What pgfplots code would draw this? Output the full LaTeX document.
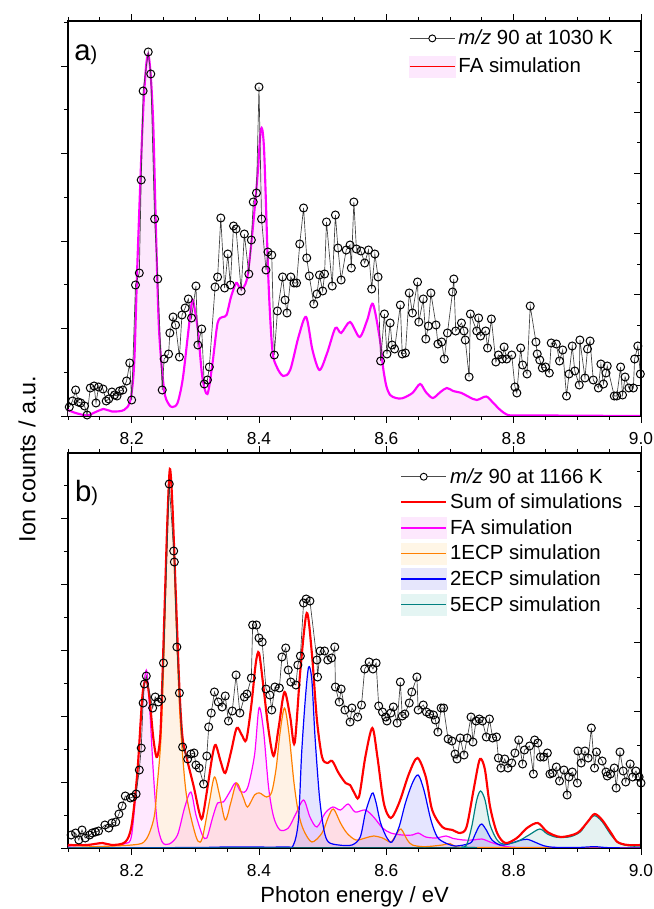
\documentclass[border=0pt]{standalone}
\usepackage{pgfplots}
\pgfplotsset{compat=1.18}
\usepackage{fontspec}
\setmainfont{Liberation Sans}
\definecolor{famag}{RGB}{255,0,255}
\definecolor{simred}{RGB}{255,0,0}
\definecolor{ecpa}{RGB}{255,128,0}
\definecolor{ecpb}{RGB}{0,0,255}
\definecolor{ecpc}{RGB}{0,128,128}
\definecolor{fafill}{RGB}{253,232,253}
\definecolor{ecpafill}{RGB}{255,246,230}
\definecolor{ecpbfill}{RGB}{230,230,252}
\definecolor{ecpcfill}{RGB}{228,245,243}
\pgfplotsset{
  panel/.style={
    scale only axis, width=429.75pt, height=296.25pt,
    xmin=8.1, xmax=9.0, ymin=0, ymax=395,
    xtick={8.2,8.4,8.6,8.8,9.0},
    xticklabels={8.2,8.4,8.6,8.8,9.0},
    minor xtick={8.1,8.15,8.25,8.3,8.35,8.45,8.5,8.55,8.65,8.7,8.75,8.85,8.9,8.95},
    xtick pos=both, xticklabel pos=bottom,
    ytick pos=left,
    yticklabels={},
    tick align=outside,
    major tick length=5pt, minor tick length=3pt,
    tick style={black, line width=0.6pt},
    axis line style={line width=0.8pt},
    ticklabel style={font=\fontsize{13pt}{15pt}\selectfont},
    xticklabel style={yshift=-4pt},
    /pgf/number format/assume math mode=true,
    legend cell align=left,
  },
  rightticks/.style={
    scale only axis, width=429.75pt, height=296.25pt,
    xmin=8.1, xmax=9.0, ymin=0, ymax=395,
    hide x axis, axis y line*=right,
    yticklabels={}, tick align=inside,
    major tick length=5pt, minor tick length=3pt,
    tick style={black, line width=0.6pt},
    axis line style={line width=0.8pt},
  },
  expdata/.style={black!75, line width=0.5pt, mark=o, mark size=3pt,
    mark options={black, line width=0.75pt}},
}
\begin{document}
\begin{tikzpicture}
\useasboundingbox (-51pt,-45.75pt) rectangle (438.75pt,636pt);

% ---------------- top panel ----------------
\begin{axis}[panel, at={(0pt,324pt)},
  ytick={0,87.5,175,262.5,350}, minor ytick={43.75,131.25,218.75,306.25,393.75},
  legend style={draw=none, fill=none, at={(0.958,0.988)}, anchor=north east,
    font=\fontsize{15.3pt}{15.3pt}\selectfont, row sep=4.5pt, inner sep=1pt}]
\addlegendimage{legend image code/.code={\draw[black!70,line width=0.6pt] (0pt,0pt) -- (34pt,0pt); \draw[black,line width=0.7pt,fill=white] (17pt,0pt) circle (2.6pt);}}
\addlegendentry{\textit{m/z} 90 at 1030 K}
\addlegendimage{legend image code/.code={\fill[fafill] (0pt,-8pt) rectangle (34pt,8pt); \draw[simred,line width=1.2pt] (0pt,0pt) -- (34pt,0pt);}}
\addlegendentry{FA simulation}

\addplot[forget plot, draw=none, fill=fafill, smooth] coordinates {
(8.100,6) (8.112,3) (8.130,0.5) (8.140,3) (8.156,7) (8.169,4.5) (8.188,6) (8.198,16)
(8.204,53) (8.209,153) (8.217,290) (8.222,345) (8.226,362) (8.230,340) (8.234,290)
(8.238,190) (8.243,86) (8.251,26) (8.258,12) (8.264,9) (8.272,13) (8.280,36) (8.288,79)
(8.294,112) (8.297,114) (8.304,86) (8.311,39) (8.319,22) (8.327,53) (8.335,93) (8.343,99)
(8.349,101) (8.356,119) (8.364,133) (8.369,129) (8.375,128) (8.382,140) (8.390,186)
(8.398,243) (8.403,287) (8.408,266) (8.415,133) (8.421,66) (8.428,49) (8.438,40)
(8.449,46) (8.462,79) (8.474,99) (8.484,66) (8.495,46) (8.507,63) (8.520,88) (8.529,83)
(8.543,94) (8.558,79) (8.570,96) (8.579,112) (8.590,76) (8.595,48) (8.600,30) (8.606,21)
(8.615,18) (8.625,17.7) (8.641,23) (8.653,32) (8.662,24) (8.673,18) (8.685,24) (8.695,28)
(8.705,25) (8.718,23) (8.730,19) (8.742,16) (8.757,19.5) (8.768,13) (8.779,6) (8.789,1.5)
(8.800,0.5) (8.850,0.5) (8.900,0.3) (9.000,0)} \closedcycle;
\addplot[forget plot, famag, line width=1.6pt, smooth] coordinates {
(8.100,6) (8.112,3) (8.130,0.5) (8.140,3) (8.156,7) (8.169,4.5) (8.188,6) (8.198,16)
(8.204,53) (8.209,153) (8.217,290) (8.222,345) (8.226,362) (8.230,340) (8.234,290)
(8.238,190) (8.243,86) (8.251,26) (8.258,12) (8.264,9) (8.272,13) (8.280,36) (8.288,79)
(8.294,112) (8.297,114) (8.304,86) (8.311,39) (8.319,22) (8.327,53) (8.335,93) (8.343,99)
(8.349,101) (8.356,119) (8.364,133) (8.369,129) (8.375,128) (8.382,140) (8.390,186)
(8.398,243) (8.403,287) (8.408,266) (8.415,133) (8.421,66) (8.428,49) (8.438,40)
(8.449,46) (8.462,79) (8.474,99) (8.484,66) (8.495,46) (8.507,63) (8.520,88) (8.529,83)
(8.543,94) (8.558,79) (8.570,96) (8.579,112) (8.590,76) (8.595,48) (8.600,30) (8.606,21)
(8.615,18) (8.625,17.7) (8.641,23) (8.653,32) (8.662,24) (8.673,18) (8.685,24) (8.695,28)
(8.705,25) (8.718,23) (8.730,19) (8.742,16) (8.757,19.5) (8.768,13) (8.779,6) (8.789,1.5)
(8.800,0.5) (8.850,0.5) (8.900,0.3) (9.000,0)};
\addplot[forget plot, expdata] coordinates {
(8.102,9) (8.107,15) (8.112,26) (8.116,14) (8.120,13) (8.126,10) (8.130,1) (8.135,28)
(8.141,30) (8.144,13) (8.148,29) (8.155,27) (8.160,15) (8.164,17) (8.169,24) (8.173,21)
(8.177,20) (8.181,25) (8.186,26) (8.192,35) (8.197,53) (8.200,16) (8.206,131) (8.212,143)
(8.215,236) (8.218,325) (8.226,364) (8.230,342) (8.236,197) (8.241,137) (8.248,26)
(8.251,57) (8.258,62) (8.260,83) (8.265,99) (8.269,91) (8.275,59) (8.279,101) (8.284,108)
(8.289,117) (8.294,98) (8.301,130) (8.304,71) (8.310,87) (8.314,32) (8.319,36) (8.322,49)
(8.331,129) (8.335,139) (8.340,198) (8.346,128) (8.351,162) (8.355,131) (8.360,190)
(8.364,187) (8.372,125) (8.377,182) (8.384,142) (8.388,176) (8.391,214) (8.396,223)
(8.400,329) (8.404,197) (8.411,146) (8.414,164) (8.420,161) (8.424,61) (8.429,105)
(8.437,139) (8.441,116) (8.444,103) (8.450,139) (8.455,133) (8.459,133) (8.464,172)
(8.470,208) (8.475,158) (8.479,140) (8.486,112) (8.491,122) (8.495,141) (8.500,125)
(8.503,142) (8.506,194) (8.515,130) (8.520,201) (8.524,168) (8.529,136) (8.537,166)
(8.543,171) (8.545,148) (8.549,214) (8.553,167) (8.560,165) (8.566,153) (8.572,166)
(8.577,127) (8.582,162) (8.587,139) (8.591,55) (8.597,102) (8.601,62) (8.606,93)
(8.609,71) (8.613,67) (8.622,111) (8.625,62) (8.630,63) (8.636,123) (8.641,103)
(8.649,134) (8.651,94) (8.658,117) (8.662,77) (8.666,90) (8.670,123) (8.678,91)
(8.681,72) (8.687,74) (8.691,57) (8.696,83) (8.704,124) (8.706,137) (8.709,85)
(8.718,93) (8.722,85) (8.724,76) (8.730,39) (8.732,102) (8.742,85) (8.745,98) (8.748,80)
(8.756,85) (8.759,68) (8.765,97) (8.772,54) (8.776,61) (8.782,57) (8.785,69) (8.789,57)
(8.797,61) (8.802,29) (8.805,23) (8.811,68) (8.814,51) (8.821,42) (8.826,110) (8.835,74)
(8.837,62) (8.841,56) (8.845,48) (8.850,49) (8.856,43) (8.859,73) (8.867,72) (8.872,55)
(8.877,66) (8.883,20) (8.887,42) (8.892,70) (8.896,45) (8.903,31) (8.904,76) (8.912,38)
(8.916,67) (8.920,75) (8.925,36) (8.933,28) (8.937,52) (8.941,32) (8.945,43) (8.947,50)
(8.958,20) (8.962,20) (8.968,49) (8.971,21) (8.975,39) (8.981,28) (8.988,28) (8.990,57)
(8.995,70) (8.999,42)};
\node[anchor=base west, inner sep=0pt] at (rel axis cs:0.0105,0.899)
  {\fontsize{22pt}{22pt}\selectfont a\fontsize{15pt}{15pt}\selectfont)};
\end{axis}
\begin{axis}[rightticks, at={(0pt,324pt)},
  ytick={0,60.7,121.4,182.1,242.8,303.5,364.2},
  minor ytick={30.35,91.05,151.75,212.45,273.15,333.85}]
\end{axis}

% ---------------- bottom panel ----------------
\begin{axis}[panel, at={(0pt,0pt)},
  ytick={0,66,132,198,264,330}, minor ytick={33,99,165,231,297,363},
  legend style={draw=none, fill=none, at={(0.975,0.972)}, anchor=north east,
    font=\fontsize{15.3pt}{15.3pt}\selectfont, row sep=2.6pt, inner sep=1pt}]
\addlegendimage{legend image code/.code={\draw[black!70,line width=0.6pt] (0pt,0pt) -- (34pt,0pt); \draw[black,line width=0.7pt,fill=white] (17pt,0pt) circle (2.6pt);}}
\addlegendentry{\textit{m/z} 90 at 1166 K}
\addlegendimage{legend image code/.code={\draw[simred,line width=1.5pt] (0pt,0pt) -- (34pt,0pt);}}
\addlegendentry{Sum of simulations}
\addlegendimage{legend image code/.code={\fill[fafill] (0pt,-8pt) rectangle (34pt,8pt); \draw[famag,line width=1pt] (0pt,0pt) -- (34pt,0pt);}}
\addlegendentry{FA simulation}
\addlegendimage{legend image code/.code={\fill[ecpafill] (0pt,-8pt) rectangle (34pt,8pt); \draw[ecpa,line width=1pt] (0pt,0pt) -- (34pt,0pt);}}
\addlegendentry{1ECP simulation}
\addlegendimage{legend image code/.code={\fill[ecpbfill] (0pt,-8pt) rectangle (34pt,8pt); \draw[ecpb,line width=1pt] (0pt,0pt) -- (34pt,0pt);}}
\addlegendentry{2ECP simulation}
\addlegendimage{legend image code/.code={\fill[ecpcfill] (0pt,-8pt) rectangle (34pt,8pt); \draw[ecpc,line width=1pt] (0pt,0pt) -- (34pt,0pt);}}
\addlegendentry{5ECP simulation}

% FA
\addplot[forget plot, draw=none, fill=famag, fill opacity=0.09, smooth] coordinates {
(8.100,2) (8.130,3) (8.154,5) (8.170,3) (8.190,4.5) (8.200,13) (8.209,76) (8.216,143)
(8.223,178) (8.228,143) (8.234,76) (8.240,26) (8.248,6) (8.259,4) (8.272,13) (8.283,40)
(8.293,56) (8.301,33) (8.311,13) (8.318,10) (8.327,30) (8.335,45) (8.344,46) (8.354,56)
(8.363,65) (8.372,56) (8.382,60) (8.393,93) (8.400,140) (8.407,118) (8.415,61) (8.423,31)
(8.433,18) (8.446,20) (8.457,33) (8.470,48) (8.480,31) (8.491,21) (8.504,35) (8.516,41)
(8.528,38) (8.540,44) (8.551,36) (8.567,38) (8.580,31) (8.594,20) (8.607,15) (8.625,13)
(8.641,13) (8.650,15) (8.662,11) (8.678,10) (8.694,12) (8.704,9.7) (8.721,8) (8.737,8)
(8.750,9) (8.763,6) (8.774,3.7) (8.790,1.3) (8.820,0.5) (9.000,0.3)} \closedcycle;
% 1ECP
\addplot[forget plot, draw=none, fill=ecpa, fill opacity=0.1, smooth] coordinates {
(8.100,0.5) (8.200,3) (8.222,8) (8.235,30) (8.240,62) (8.246,110) (8.251,200) (8.256,326)
(8.260,376) (8.264,343) (8.269,243) (8.275,143) (8.280,93) (8.286,53) (8.296,23) (8.304,7)
(8.311,10) (8.322,46) (8.330,71) (8.338,53) (8.347,28) (8.356,46) (8.365,65) (8.375,51)
(8.382,41) (8.393,53) (8.401,55) (8.412,51) (8.420,56) (8.427,80) (8.433,115) (8.440,140)
(8.447,115) (8.455,65) (8.462,35) (8.470,18) (8.483,6) (8.499,15) (8.509,31) (8.517,39)
(8.528,25) (8.538,15) (8.552,8) (8.567,10) (8.580,12) (8.594,10) (8.607,6) (8.615,13)
(8.623,19) (8.633,8) (8.641,3) (8.660,1.3) (8.688,3) (8.700,4.5) (8.712,1) (8.750,0.5)
(9.000,0)} \closedcycle;
% 2ECP
\addplot[forget plot, draw=none, fill=ecpb, fill opacity=0.1, smooth] coordinates {
(8.100,0) (8.300,0.5) (8.350,1) (8.440,1) (8.454,3) (8.462,28) (8.467,95) (8.473,151)
(8.478,181) (8.483,168) (8.488,111) (8.495,51) (8.502,18) (8.509,6) (8.525,3) (8.546,3)
(8.559,11) (8.567,35) (8.575,51) (8.579,55) (8.584,45) (8.591,25) (8.601,10) (8.609,6)
(8.620,21) (8.630,45) (8.641,65) (8.650,73) (8.659,58) (8.670,28) (8.680,11) (8.693,5)
(8.709,2) (8.732,5) (8.739,13) (8.745,21) (8.750,24) (8.757,18) (8.766,8) (8.779,3)
(8.792,4) (8.808,7.3) (8.821,8.7) (8.834,5.7) (8.847,2.3) (8.863,0.7) (8.900,0.5)
(8.927,1.3) (8.950,0.3) (9.000,0)} \closedcycle;
% 5ECP
\addplot[forget plot, draw=none, fill=ecpc, fill opacity=0.1, smooth] coordinates {
(8.100,0) (8.700,0) (8.718,1) (8.726,3) (8.734,21) (8.742,48) (8.748,57) (8.755,48)
(8.763,23) (8.774,8) (8.784,4) (8.805,6.3) (8.824,13) (8.841,19) (8.853,14) (8.868,10.7)
(8.889,11.3) (8.905,16.3) (8.916,26.3) (8.927,32.3) (8.939,26.3) (8.953,13) (8.966,4.7)
(8.984,2) (9.000,2)} \closedcycle;

\addplot[forget plot, famag, line width=0.9pt, smooth] coordinates {
(8.100,2) (8.130,3) (8.154,5) (8.170,3) (8.190,4.5) (8.200,13) (8.209,76) (8.216,143)
(8.223,178) (8.228,143) (8.234,76) (8.240,26) (8.248,6) (8.259,4) (8.272,13) (8.283,40)
(8.293,56) (8.301,33) (8.311,13) (8.318,10) (8.327,30) (8.335,45) (8.344,46) (8.354,56)
(8.363,65) (8.372,56) (8.382,60) (8.393,93) (8.400,140) (8.407,118) (8.415,61) (8.423,31)
(8.433,18) (8.446,20) (8.457,33) (8.470,48) (8.480,31) (8.491,21) (8.504,35) (8.516,41)
(8.528,38) (8.540,44) (8.551,36) (8.567,38) (8.580,31) (8.594,20) (8.607,15) (8.625,13)
(8.641,13) (8.650,15) (8.662,11) (8.678,10) (8.694,12) (8.704,9.7) (8.721,8) (8.737,8)
(8.750,9) (8.763,6) (8.774,3.7) (8.790,1.3) (8.820,0.5) (9.000,0.3)};
\addplot[forget plot, ecpa, line width=0.9pt, smooth] coordinates {
(8.100,0.5) (8.200,3) (8.222,8) (8.235,30) (8.240,62) (8.246,110) (8.251,200) (8.256,326)
(8.260,376) (8.264,343) (8.269,243) (8.275,143) (8.280,93) (8.286,53) (8.296,23) (8.304,7)
(8.311,10) (8.322,46) (8.330,71) (8.338,53) (8.347,28) (8.356,46) (8.365,65) (8.375,51)
(8.382,41) (8.393,53) (8.401,55) (8.412,51) (8.420,56) (8.427,80) (8.433,115) (8.440,140)
(8.447,115) (8.455,65) (8.462,35) (8.470,18) (8.483,6) (8.499,15) (8.509,31) (8.517,39)
(8.528,25) (8.538,15) (8.552,8) (8.567,10) (8.580,12) (8.594,10) (8.607,6) (8.615,13)
(8.623,19) (8.633,8) (8.641,3) (8.660,1.3) (8.688,3) (8.700,4.5) (8.712,1) (8.750,0.5)
(9.000,0)};
\addplot[forget plot, ecpb, line width=0.9pt, smooth] coordinates {
(8.100,0) (8.300,0.5) (8.350,1) (8.440,1) (8.454,3) (8.462,28) (8.467,95) (8.473,151)
(8.478,181) (8.483,168) (8.488,111) (8.495,51) (8.502,18) (8.509,6) (8.525,3) (8.546,3)
(8.559,11) (8.567,35) (8.575,51) (8.579,55) (8.584,45) (8.591,25) (8.601,10) (8.609,6)
(8.620,21) (8.630,45) (8.641,65) (8.650,73) (8.659,58) (8.670,28) (8.680,11) (8.693,5)
(8.709,2) (8.732,5) (8.739,13) (8.745,21) (8.750,24) (8.757,18) (8.766,8) (8.779,3)
(8.792,4) (8.808,7.3) (8.821,8.7) (8.834,5.7) (8.847,2.3) (8.863,0.7) (8.900,0.5)
(8.927,1.3) (8.950,0.3) (9.000,0)};
\addplot[forget plot, ecpc, line width=0.9pt, smooth] coordinates {
(8.100,0) (8.700,0) (8.718,1) (8.726,3) (8.734,21) (8.742,48) (8.748,57) (8.755,48)
(8.763,23) (8.774,8) (8.784,4) (8.805,6.3) (8.824,13) (8.841,19) (8.853,14) (8.868,10.7)
(8.889,11.3) (8.905,16.3) (8.916,26.3) (8.927,32.3) (8.939,26.3) (8.953,13) (8.966,4.7)
(8.984,2) (9.000,2)};
\addplot[forget plot, simred, line width=1.6pt, smooth] coordinates {
(8.100,3) (8.130,3) (8.154,5) (8.169,3) (8.190,6) (8.200,23) (8.209,76) (8.217,153)
(8.223,168) (8.228,150) (8.234,110) (8.239,91) (8.243,100) (8.246,126) (8.251,226)
(8.256,326) (8.260,379) (8.264,343) (8.269,260) (8.275,160) (8.280,110) (8.288,86)
(8.298,60) (8.306,36) (8.311,30) (8.319,60) (8.327,93) (8.332,103) (8.340,86) (8.347,75)
(8.356,96) (8.365,120) (8.373,113) (8.380,108) (8.388,143) (8.395,185) (8.400,195)
(8.407,161) (8.415,118) (8.423,92) (8.431,121) (8.440,156) (8.449,131) (8.456,105)
(8.465,178) (8.475,235) (8.483,195) (8.491,128) (8.499,91) (8.507,85) (8.515,87)
(8.525,75) (8.536,65) (8.543,63) (8.549,56) (8.557,51) (8.567,91) (8.578,120) (8.586,91)
(8.596,45) (8.607,30) (8.620,45) (8.636,75) (8.649,90) (8.662,71) (8.672,38) (8.688,21)
(8.704,18) (8.716,15) (8.726,21) (8.737,58) (8.745,85) (8.749,89) (8.755,78) (8.763,41)
(8.774,15) (8.787,5) (8.805,10) (8.821,20) (8.838,25) (8.853,16) (8.874,11) (8.900,15)
(8.916,26) (8.927,34) (8.939,28) (8.953,15) (8.963,6) (8.979,3) (9.000,3)};
\addplot[forget plot, expdata] coordinates {
(8.105,13) (8.112,15) (8.117,8) (8.122,18) (8.127,10) (8.134,13) (8.138,15) (8.143,16)
(8.148,17) (8.158,23) (8.164,20) (8.169,25) (8.175,26) (8.180,34) (8.185,42) (8.190,52)
(8.198,50) (8.202,51) (8.207,54) (8.212,78) (8.215,100) (8.218,145) (8.220,164)
(8.223,172) (8.233,140) (8.237,151) (8.242,146) (8.247,149) (8.250,185) (8.259,364)
(8.266,297) (8.267,286) (8.271,201) (8.275,155) (8.280,101) (8.288,89) (8.293,94)
(8.298,95) (8.301,83) (8.306,80) (8.313,64) (8.318,92) (8.321,121) (8.325,135) (8.330,156)
(8.336,146) (8.342,141) (8.347,152) (8.352,127) (8.358,137) (8.364,173) (8.370,135)
(8.377,151) (8.381,154) (8.388,170) (8.390,223) (8.396,223) (8.400,210) (8.405,206)
(8.411,159) (8.417,153) (8.420,138) (8.425,161) (8.432,160) (8.436,191) (8.442,200)
(8.446,178) (8.450,166) (8.458,163) (8.461,183) (8.465,192) (8.470,245) (8.474,249)
(8.480,247) (8.491,188) (8.492,171) (8.496,197) (8.503,197) (8.508,188) (8.514,190)
(8.519,201) (8.520,161) (8.526,146) (8.529,159) (8.535,138) (8.543,126) (8.546,140)
(8.555,131) (8.561,143) (8.566,179) (8.573,186) (8.579,179) (8.584,185) (8.588,142)
(8.594,136) (8.599,131) (8.601,127) (8.607,135) (8.611,141) (8.617,125) (8.622,166)
(8.625,132) (8.629,134) (8.636,145) (8.640,156) (8.648,171) (8.650,138) (8.658,143)
(8.663,136) (8.668,134) (8.674,133) (8.677,128) (8.681,116) (8.686,140) (8.690,140)
(8.697,109) (8.703,107) (8.708,94) (8.711,89) (8.716,110) (8.722,93) (8.727,110)
(8.733,131) (8.736,106) (8.741,127) (8.746,129) (8.751,127) (8.757,111) (8.762,129)
(8.767,110) (8.773,111) (8.776,90) (8.780,80) (8.786,89) (8.791,80) (8.797,85) (8.802,95)
(8.808,108) (8.814,84) (8.817,98) (8.825,102) (8.831,74) (8.833,108) (8.838,105)
(8.842,91) (8.847,91) (8.853,95) (8.857,74) (8.861,75) (8.867,81) (8.872,67) (8.879,78)
(8.884,53) (8.887,71) (8.892,76) (8.900,65) (8.901,97) (8.906,85) (8.912,97) (8.917,90)
(8.922,120) (8.927,80) (8.930,96) (8.939,87) (8.945,76) (8.947,72) (8.952,74) (8.958,80)
(8.961,60) (8.967,96) (8.972,77) (8.976,66) (8.983,84) (8.987,71) (8.992,77) (8.997,71)
(9.000,65)};
\node[anchor=base west, inner sep=0pt] at (rel axis cs:0.012,0.878)
  {\fontsize{22pt}{22pt}\selectfont b\fontsize{15pt}{15pt}\selectfont)};
\end{axis}
\begin{axis}[rightticks, at={(0pt,0pt)},
  ytick={0,68.4,136.8,205.2,273.6,342},
  minor ytick={34.2,102.6,171,239.4,307.8,376.2}]
\end{axis}

\node[rotate=90, font=\fontsize{17.5pt}{20pt}\selectfont] at (-30.75pt,291.75pt) {Ion counts / a.u.};
\node[font=\fontsize{16.5pt}{20pt}\selectfont] at (214.9pt,-36.75pt) {Photon energy / eV};
\end{tikzpicture}
\end{document}
